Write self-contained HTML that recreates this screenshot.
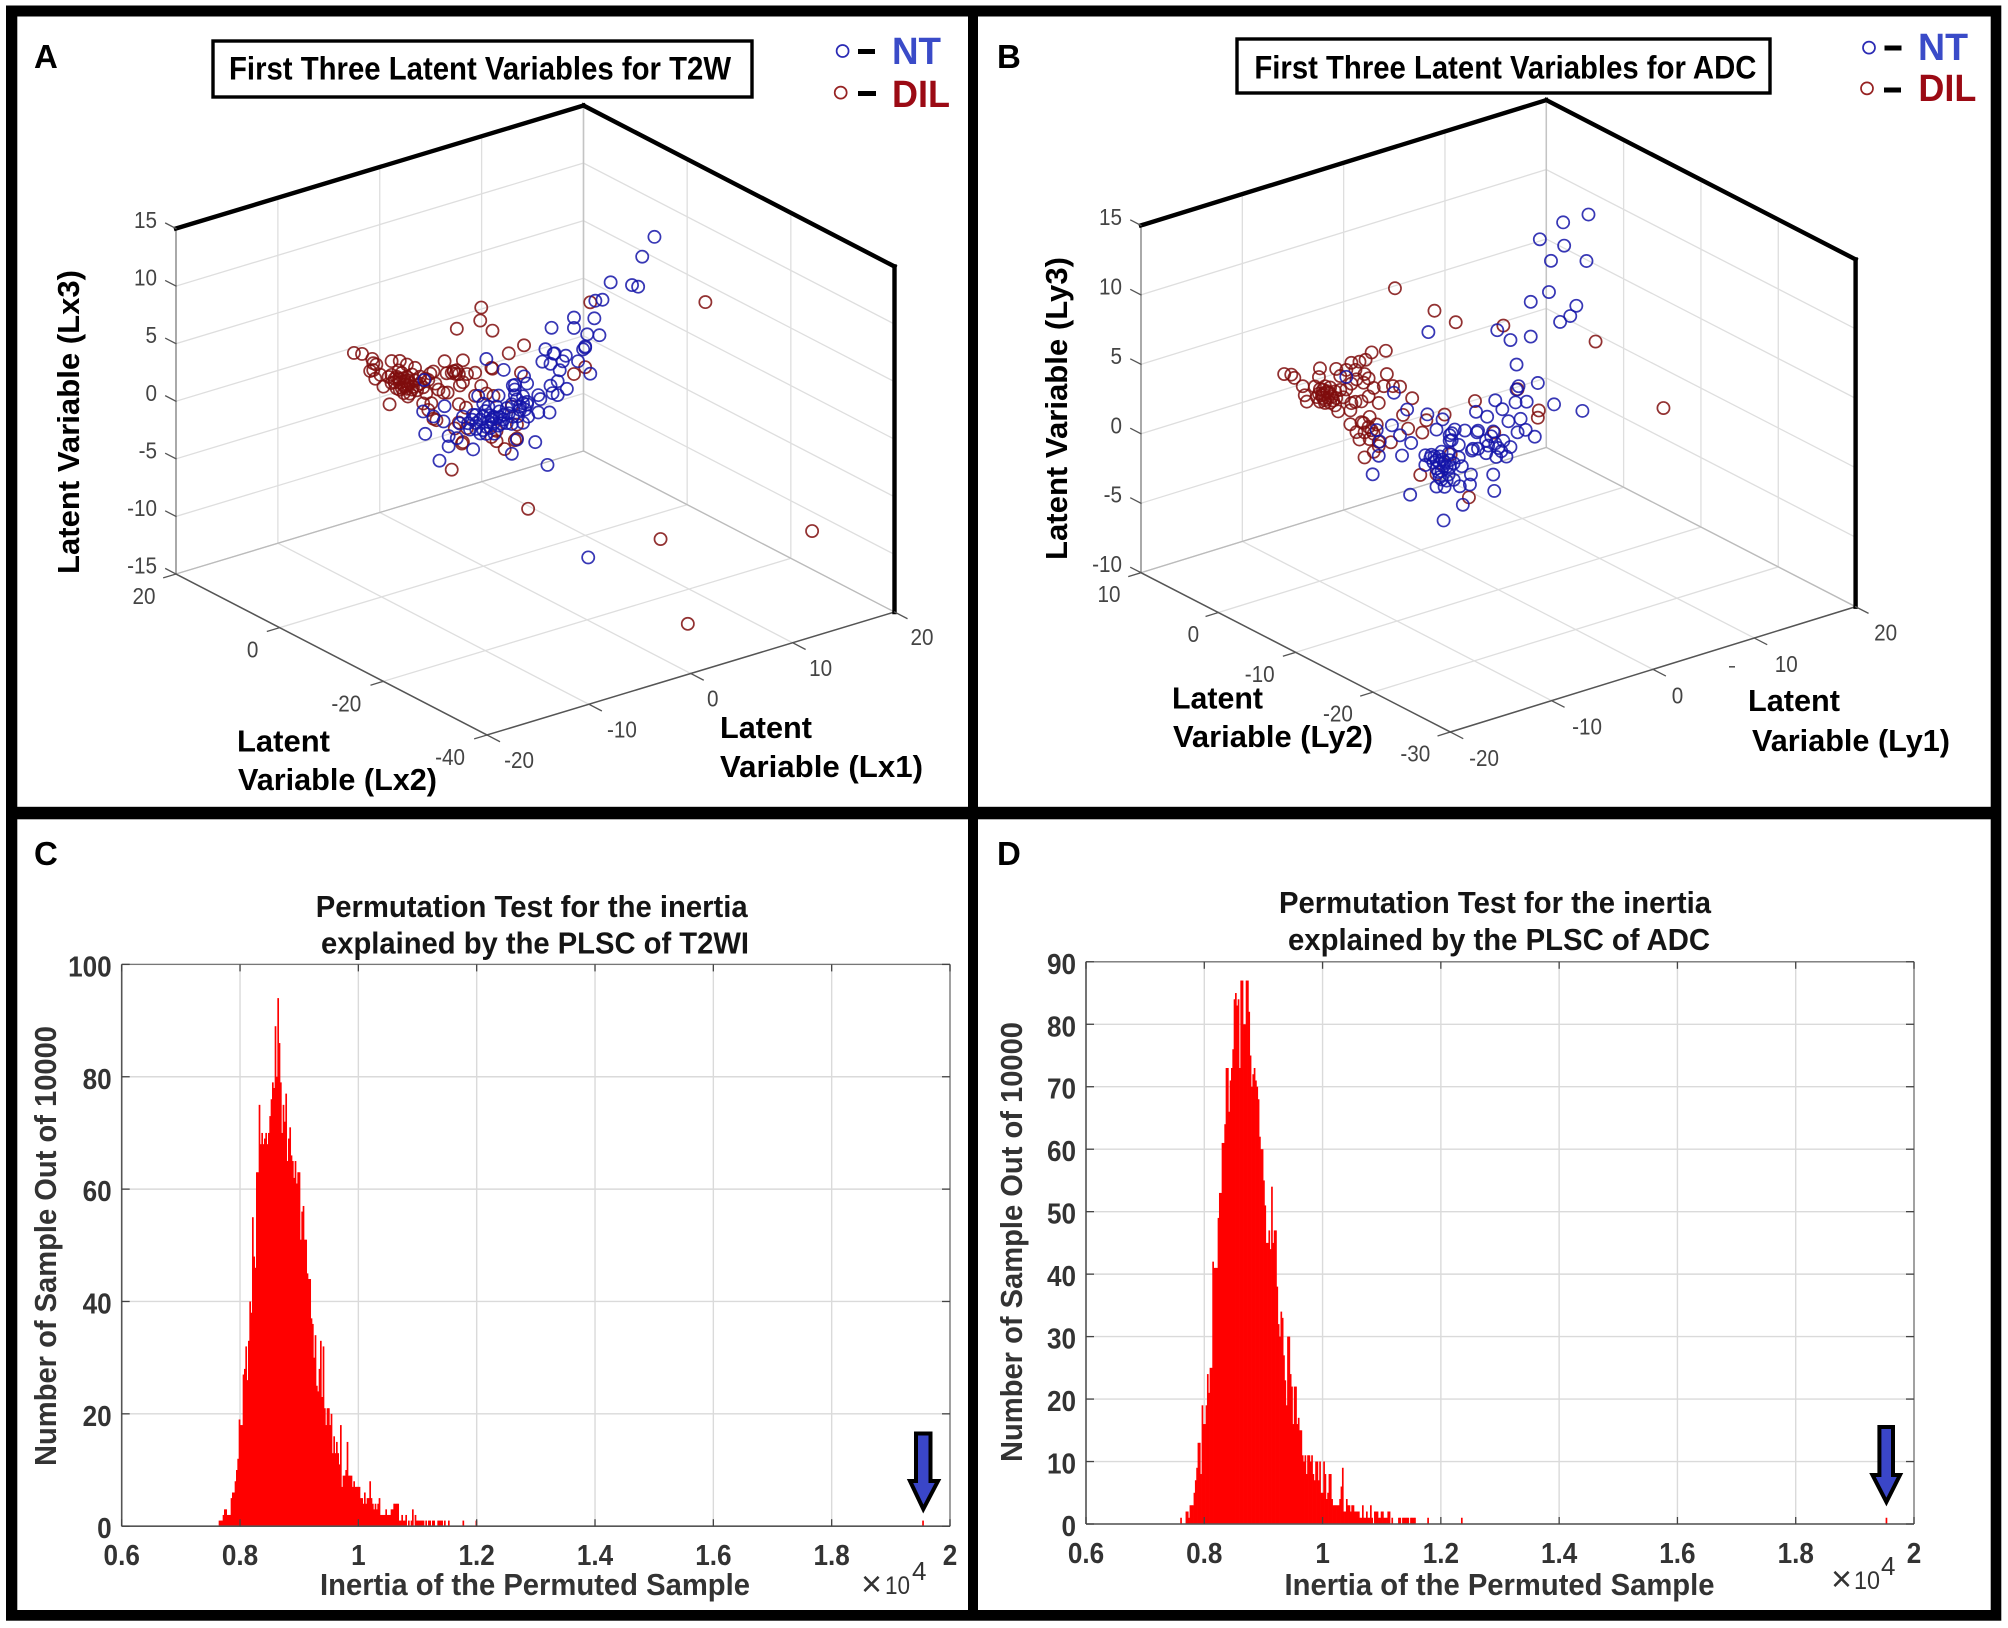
<!DOCTYPE html>
<html lang="en">
<head>
<meta charset="utf-8">
<title>Latent variables and permutation tests</title>
<style>
html,body{margin:0;padding:0;background:#fff;}
svg{display:block;font-family:"Liberation Sans",sans-serif;}
</style>
</head>
<body>
<svg id="figure" xmlns="http://www.w3.org/2000/svg" width="2008" height="1628" viewBox="0 0 2008 1628">
  <rect x="0" y="0" width="2008" height="1628" fill="#fff"/>
  <rect x="6" y="5.5" width="1995.3" height="1615.2" fill="#000"/>
  <rect x="17.3" y="16.5" width="950.7" height="790.3" fill="#fff"/>
  <rect x="978" y="16.5" width="1012.7" height="790.3" fill="#fff"/>
  <rect x="17.3" y="819.3" width="950.7" height="790.7" fill="#fff"/>
  <rect x="978" y="819.3" width="1012.7" height="790.7" fill="#fff"/>

  <g id="plot-a"></g>
  <g id="plot-b"></g>
  <g id="plot-c"></g>
  <g id="plot-d"></g>

  <g font-weight="700" font-size="33" fill="#000">
    <text x="34" y="68">A</text>
    <text x="997" y="68">B</text>
    <text x="34" y="865">C</text>
    <text x="997" y="865">D</text>
  </g>

  <rect x="213" y="41" width="539" height="56" fill="#fff" stroke="#000" stroke-width="3.4"/>
  <text x="229" y="79.5" font-size="32" font-weight="700" textLength="502" lengthAdjust="spacingAndGlyphs">First Three Latent Variables for T2W</text>
  <rect x="1237" y="39" width="533" height="54" fill="#fff" stroke="#000" stroke-width="3.4"/>
  <text x="1254.4" y="78.5" font-size="32" font-weight="700" textLength="502" lengthAdjust="spacingAndGlyphs">First Three Latent Variables for ADC</text>

  <g>
    <circle cx="842.6" cy="51" r="6" fill="none" stroke="#2a2ab4" stroke-width="1.7"/>
    <rect x="858" y="49" width="17" height="5" fill="#000"/>
    <text x="892" y="64" font-size="38" font-weight="700" fill="#3a4bc8" textLength="49" lengthAdjust="spacingAndGlyphs">NT</text>
    <circle cx="840.7" cy="92.6" r="6" fill="none" stroke="#962222" stroke-width="1.7"/>
    <rect x="858" y="91" width="18" height="5" fill="#000"/>
    <text x="892" y="107" font-size="38" font-weight="700" fill="#9b0a14" textLength="58" lengthAdjust="spacingAndGlyphs">DIL</text>
  </g>
  <g>
    <circle cx="1869" cy="47.6" r="6" fill="none" stroke="#2a2ab4" stroke-width="1.7"/>
    <rect x="1884.5" y="45.5" width="17" height="5" fill="#000"/>
    <text x="1918" y="60" font-size="38" font-weight="700" fill="#3a4bc8" textLength="50" lengthAdjust="spacingAndGlyphs">NT</text>
    <circle cx="1867" cy="88.4" r="6" fill="none" stroke="#962222" stroke-width="1.7"/>
    <rect x="1884" y="87.5" width="17" height="5" fill="#000"/>
    <text x="1918.4" y="101" font-size="38" font-weight="700" fill="#9b0a14" textLength="58" lengthAdjust="spacingAndGlyphs">DIL</text>
  </g>

  <g font-size="31" font-weight="700" fill="#000">
    <text transform="translate(79,422) rotate(-90)" text-anchor="middle" textLength="304" lengthAdjust="spacingAndGlyphs">Latent Variable (Lx3)</text>
    <text x="237" y="751.5" textLength="93" lengthAdjust="spacingAndGlyphs">Latent</text>
    <text x="238" y="790" textLength="199" lengthAdjust="spacingAndGlyphs">Variable (Lx2)</text>
    <text x="720" y="738" textLength="92" lengthAdjust="spacingAndGlyphs">Latent</text>
    <text x="720" y="777" textLength="203" lengthAdjust="spacingAndGlyphs">Variable (Lx1)</text>
    <text transform="translate(1067,408.5) rotate(-90)" text-anchor="middle" textLength="303" lengthAdjust="spacingAndGlyphs">Latent Variable (Ly3)</text>
    <text x="1172" y="708.5" textLength="91" lengthAdjust="spacingAndGlyphs">Latent</text>
    <text x="1173" y="747" textLength="200" lengthAdjust="spacingAndGlyphs">Variable (Ly2)</text>
    <text x="1748" y="711" textLength="92" lengthAdjust="spacingAndGlyphs">Latent</text>
    <text x="1752" y="751" textLength="198" lengthAdjust="spacingAndGlyphs">Variable (Ly1)</text>
  </g>
  <rect x="1729" y="666" width="6" height="1.6" fill="#555"/>

  <g font-size="31" font-weight="700" fill="#151515">
    <text x="315.7" y="917" textLength="432" lengthAdjust="spacingAndGlyphs">Permutation Test for the inertia</text>
    <text x="321" y="953.5" textLength="428" lengthAdjust="spacingAndGlyphs">explained by the PLSC of T2WI</text>
    <text x="1279" y="913" textLength="432" lengthAdjust="spacingAndGlyphs">Permutation Test for the inertia</text>
    <text x="1288" y="950" textLength="422" lengthAdjust="spacingAndGlyphs">explained by the PLSC of ADC</text>
  </g>
  <g font-size="31" font-weight="700" fill="#333">
    <text x="320" y="1595" textLength="430" lengthAdjust="spacingAndGlyphs">Inertia of the Permuted Sample</text>
    <text transform="translate(56,1246) rotate(-90)" text-anchor="middle" textLength="440" lengthAdjust="spacingAndGlyphs">Number of Sample Out of 10000</text>
    <text x="1284.5" y="1595" textLength="430" lengthAdjust="spacingAndGlyphs">Inertia of the Permuted Sample</text>
    <text transform="translate(1022,1242) rotate(-90)" text-anchor="middle" textLength="440" lengthAdjust="spacingAndGlyphs">Number of Sample Out of 10000</text>
  </g>
  <g fill="#333">
    <text x="861" y="1596" font-size="36">×</text>
    <text x="885" y="1594" font-size="25" textLength="25" lengthAdjust="spacingAndGlyphs">10</text>
    <text x="912" y="1580" font-size="26">4</text>
    <text x="1831" y="1591" font-size="36">×</text>
    <text x="1854" y="1589" font-size="25" textLength="26" lengthAdjust="spacingAndGlyphs">10</text>
    <text x="1881" y="1575" font-size="26">4</text>
  </g>
  <polygon points="916,1433.5 930.5,1433.5 930.5,1481 938,1481 923.3,1509 910,1481 916,1481" fill="#3a46c8" stroke="#000" stroke-width="4" stroke-linejoin="miter"/>
  <polygon points="1879.4,1427 1893,1427 1893,1475 1900,1475 1886.4,1502 1872.5,1475 1879.4,1475" fill="#3a46c8" stroke="#000" stroke-width="4" stroke-linejoin="miter"/>
</svg>
<script>
/* ---------- Panel A values: [Lx1, Lx2, Lx3]; depth (Lx2) is an estimate, a 2-D picture cannot show it ---------- */
const t2wLx1Ticks = [-20,-10,0,10,20];
const t2wLx2Ticks = [20,0,-20,-40];
const t2wLx3Ticks = [-15,-10,-5,0,5,10,15];
const t2wNT = [[11.7,-10,12.8],[10.5,-10,11.4],[7.4,-10,10],[9.5,-10,9.2],[10.1,-10,8.9],[6.6,-10,8.7],[5.9,-10,8.8],[3.8,-10,7.9],[5.8,-10,7.3],[1.6,-10,7.6],[3.8,-10,7],[5.1,-10,6.1],[6.3,-10,5.7],[4.9,-10,5.1],[4.7,-10,4.9],[1,-10,5.9],[1.8,-10,5.3],[3,-10,4.8],[0.7,-10,4.9],[1.5,-10,4.5],[2.7,-10,4.4],[4.2,-10,4],[2.4,-10,3.7],[5.4,-10,2.6],[-4.8,-10,6.6],[-3.1,-10,5.2],[-10.9,-10,6.4],[-1.1,-10,4.1],[-0.8,-10,3.4],[-2.2,-10,3.6],[-2,-10,3.2],[2.2,-10,2.8],[1.5,-10,2.6],[3.1,-10,1.9],[1.7,-10,1.9],[2.2,-10,1.6],[0.3,-10,2.1],[0.5,-10,1.7],[-3.6,-10,3.1],[-1.2,-10,2.4],[-0.8,-10,1.8],[-2.3,-10,2],[-1.5,-10,1.6],[-8.9,-10,3.6],[-11,-10,3.7],[0.3,-10,0.6],[1.4,-10,0.3],[-10,-10,3],[-9,-10,2.3],[-10.8,-10,1.7],[0,-10,-1.9],[-1.8,-10,-1.2],[-8.5,-10,0.9],[-8.5,-10,0],[-6.1,-10,-0.9],[-9.4,-10,-1],[-2.3,-10,-2.3],[1.2,-10,-4.2],[-7.1,-10,2.2],[-6.2,-10,1.7],[-5.8,-10,1.3],[-5.1,-10,1.7],[-4.4,-10,1.6],[-3.8,-10,1.2],[-3.1,-10,0.9],[-2.8,-10,0.5],[-4.8,-10,0.7],[-5.4,-10,0.3],[-6.4,-10,0.9],[-7.4,-10,1.7],[-4.1,-10,0.8],[-3.5,-10,1.2],[-2.2,-10,0.9],[-1.5,-10,1.3],[-0.7,-10,0.5],[-1.2,-10,0.1],[-2.6,-10,1.3],[-4.6,-10,2.4],[-5.1,-10,2.8],[-5.6,-10,3.6],[-3.8,-10,2.2],[-7.7,-10,0.5],[-4,-10,-0.1],[-4.8,-10,0.1],[-0.8,-10,1.6],[-1.8,-10,2.3],[-2,-10,3.6],[1.9,-10,5.3],[4.9,-10,5],[-3.3,-10,0.6],[-4.3,-10,1.2],[-5.8,-10,2],[5.2,-10,-13.3],[-4.9,-10,2.1],[-4.1,-10,1.4],[-4.6,-10,1.1],[-3.6,-10,0.5],[-3.1,-10,1.3],[-5.4,-10,1.5],[-6.1,-10,2.1],[-6.6,-10,1.5],[-5.1,-10,0.5],[-2.3,-10,0.3],[-1.7,-10,0.8],[-1,-10,1.2],[-1.2,-10,1.8],[-2,-10,2.7],[-2.8,-10,1.8],[-3.5,-10,1.7],[-4.4,-10,0.5],[-5.8,-10,0.8]];
const t2wDIL = [[-17.8,-10,10.6],[-17,-10,10.3],[-16,-10,9.6],[-15.9,-10,9.2],[-15.6,-10,9],[-16.2,-10,8.6],[-15.7,-10,7.8],[-14.9,-10,6.9],[-14.3,-10,5.2],[-14.1,-10,8.9],[-13.3,-10,8.7],[-12.6,-10,8.2],[-11.8,-10,7.7],[-15.2,-10,8],[-14.1,-10,7.7],[-13.6,-10,7.4],[-13.1,-10,7.6],[-12.6,-10,7.1],[-12.1,-10,7.2],[-13.8,-10,7],[-13.3,-10,6.8],[-12.8,-10,6.8],[-12.3,-10,6.5],[-11.8,-10,6.6],[-13.6,-10,6.4],[-13.1,-10,6.3],[-12.6,-10,6.1],[-12.1,-10,5.9],[-12.9,-10,5.8],[-12.5,-10,5.4],[-11.6,-10,5.7],[-11.3,-10,6.8],[-13.3,-10,7.1],[-12.9,-10,6.5],[-12.5,-10,6.4],[-13.4,-10,7.9],[-14.1,-10,7],[-14.4,-10,7.6],[-11.5,-10,6.1],[-11,-10,5.8],[-10.3,-10,6.8],[-10,-10,6.9],[-10.5,-10,6.3],[-9.8,-10,5.8],[-9.5,-10,5.2],[-9,-10,4.8],[-8.6,-10,4.7],[-10.7,-10,5.2],[-11,-10,4.4],[-10.2,-10,4.2],[-10.5,-10,3.7],[-10,-10,2.8],[-9.7,-10,2.6],[-8.9,-10,7.5],[-7.1,-10,7.1],[-8,-10,6.4],[-7.7,-10,6.4],[-8.2,-10,6.3],[-7.5,-10,6],[-6.7,-10,5.8],[-5.9,-10,5.7],[-7.1,-10,5.2],[-7.4,-10,5],[-8.7,-10,6.4],[-5.3,-10,4.4],[-5.3,-10,11.2],[-5.4,-10,10.1],[-7.7,-10,10],[-4.2,-10,8.9],[-2.6,-10,6.5],[-1.1,-10,6.8],[-4.3,-10,5.7],[-4.2,-10,5.6],[-1.4,-10,4.5],[3.8,-10,3],[4.9,-10,3.3],[5.4,-10,8.8],[-0.7,-10,-7.5],[-8.2,-10,-2.1],[-5.9,-10,3.7],[-4.8,-10,3.6],[-4.1,-10,3.2],[-7.5,-10,3.4],[-6.8,-10,2.9],[-7.5,-10,1.8],[-7.9,-10,1.4],[-6.7,-10,1.1],[-7.1,-10,0],[-7.2,-10,-0.1],[-3.8,-10,0.1],[-4.3,-10,-0.3],[-3.8,-10,-0.8],[-3,-10,-1.7],[-1.8,-10,-1.1],[-2,-10,-1.2],[-1.8,-10,0.1],[-2.3,-10,1.8],[16.7,-10,5.8],[12.3,-10,-13.6],[17,-30,-9.5],[4.8,-30,-14.3],[-13.4,-10,7.2],[-12.9,-10,7.1],[-12.5,-10,6.8],[-12,-10,6.1],[-12.8,-10,6.3],[-13.3,-10,6.2],[-12.3,-10,5.6],[-13.8,-10,7.3],[-11.3,-10,6.2],[-10.8,-10,6.5],[-8,-10,6.4],[-7.8,-10,6.1],[-15.9,-10,8.6]];

/* ---------- Panel B values: [Ly1, Ly2, Ly3] ---------- */
const adcLy1Ticks = [-20,-10,0,10,20];
const adcLy2Ticks = [10,0,-10,-20,-30];
const adcLy3Ticks = [-10,-5,0,5,10,15];
const adcNT = [[8.9,-10,15],[6.4,-10,15],[4.1,-10,14.3],[6.5,-10,13.3],[5.2,-10,12.5],[8.7,-10,11.7],[5,-10,10.3],[3.2,-10,10],[7.7,-10,8.7],[7.1,-10,8.1],[6.1,-10,7.9],[-0.1,-10,8.7],[-6.9,-10,10.1],[1.2,-10,7.7],[3.2,-10,7.5],[1.8,-10,5.8],[2,-10,4.2],[3.9,-10,4],[5.5,-10,2.1],[8.3,-10,1],[-0.3,-10,3.7],[1.7,-10,3.1],[2.8,-10,2.9],[0.4,-10,2.9],[2.2,-10,1.8],[-2.2,-10,3.3],[-1.1,-10,2.7],[1,-10,1.9],[2.7,-10,0.9],[1.9,-10,0.9],[3.6,-10,0.2],[-10.3,-10,6.5],[-9,-10,5],[-7,-10,4.2],[-5.5,-10,3.5],[-6.1,-10,2.9],[-10.5,-10,4.2],[-12,-10,4.2],[-9.7,-10,3.3],[-8.6,-10,2.5],[-11.7,-10,3.3],[-11.8,-10,2.3],[-9.5,-10,1.8],[-12.4,-10,1.1],[-8.7,-10,-1.2],[-5.4,-10,-3.8],[-3.5,-10,-3.1],[-2.8,-10,-1.8],[-0.5,-10,-1.6],[-0.4,-10,-2.8],[-2.7,-10,-1.1],[-3.3,-10,2.2],[-2,-10,1.9],[-4.3,-10,2.5],[-4.8,-10,2.2],[-4.6,-10,1.8],[-3.9,-10,1.3],[-2.6,-10,0.6],[-2,-10,0.6],[-1.2,-10,1],[-0.5,-10,1.5],[-0.3,-10,0.6],[0.5,-10,0.6],[1.2,-10,0],[-1.2,-10,0.1],[-0.2,-10,-0.4],[0.8,-10,-0.6],[0.3,-10,-0.1],[-7.2,-10,1.3],[-7.2,-10,0.6],[-6.3,-10,1],[-5.6,-10,1.2],[-4.9,-10,0.9],[-3.9,-10,0.4],[-6.4,-10,0.6],[-5.8,-10,0.4],[-5.1,-10,0],[-4.4,-10,0.1],[-5.6,-10,-0.2],[-4.9,-10,-0.6],[-6.1,-10,-1.2],[-5.3,-10,-1.4],[-5.6,-10,-0.8],[-4.4,-10,-1.1],[-3.8,-10,-1.7],[-3.6,-10,-0.3],[-15,-10,8.7],[-2.1,-10,1.8],[1.8,-10,4],[-6.7,-10,1],[-5.8,-10,0.9],[-5.5,-10,0.6],[-6.1,-10,0.1],[-4.8,-10,0.4],[-6.6,-10,1.2],[-6.1,-10,0.7],[-5.4,-10,0.1],[-5.9,-10,-0.2],[-5.3,-10,0.4],[-4.8,-10,-0.1],[-5.8,-10,-0.6],[-5.1,-10,-1],[-1,-10,0.6],[0,-10,0.2],[-0.7,-10,1.2],[-2.5,-10,0.7],[-4.6,-10,2.3],[-4.8,-10,1.8]];
const adcDIL = [[-10.2,-10,14],[-6.3,-10,11.5],[-4.2,-10,10.2],[0.5,-10,8.9],[9.6,-10,5.7],[16.3,-10,-0.6],[-2.3,-10,4.1],[1.9,-10,4],[4,-10,2],[3.9,-10,1.5],[-0.4,-10,1.4],[-5.3,-10,3.8],[-7.1,-10,3.8],[-7.5,-10,3],[-8.9,-10,3.6],[-9.4,-10,4.7],[-8.5,-10,5.7],[-9.7,-10,6.8],[-10.6,-10,3],[-11.8,-10,3.3],[-12.3,-10,2.7],[-13.2,-10,2.5],[-7.7,-10,0],[-6.1,-10,-0.3],[-4.7,-10,0.8],[-2.9,-10,-2.7],[-13.5,0,5.7],[-12.8,0,5.5],[-12.5,0,5.2],[-19.3,-10,9],[-19.1,-10,8.3],[-18.9,-10,7.8],[-17.6,-10,9.9],[-17.7,-10,9.3],[-16,-10,9.5],[-14.5,-10,9.6],[-13.7,-10,9.5],[-13.1,-10,9.5],[-12.5,-10,9.9],[-11.1,-10,9.7],[-11,-10,8],[-13.2,-10,8.5],[-15,-10,9.2],[-14.1,-10,9],[-15.6,-10,8.9],[-18.1,-10,8.7],[-17.6,-10,8.4],[-17.1,-10,8.5],[-16.6,-10,8.3],[-16.1,-10,7.9],[-15.6,-10,7.9],[-17.9,-10,7.9],[-17.4,-10,7.9],[-16.9,-10,8],[-16.4,-10,7.6],[-16,-10,7.4],[-17.6,-10,7.5],[-17.1,-10,7.3],[-16.6,-10,7.2],[-16.1,-10,6.9],[-17.3,-10,7.7],[-16.8,-10,7.6],[-15.3,-10,7.3],[-15,-10,7.8],[-14.5,-10,8.1],[-14,-10,8.3],[-13.3,-10,7.9],[-12.8,-10,8.1],[-12.3,-10,7.3],[-11.3,-10,7.2],[-10.4,-10,7],[-11.8,-10,6.1],[-12.8,-10,6.8],[-13.5,-10,6.6],[-14.1,-10,6.7],[-14.6,-10,6.2],[-15.8,-10,6.4],[-14.6,-10,5.2],[-13.5,-10,5.1],[-12.7,-10,5.3],[-12.8,-10,4.6],[-12,-10,4.6],[-14,-10,4.5],[-13.2,-10,4.3],[-13.7,-10,3.9],[-12.7,-10,3.7],[-11.8,-10,3],[-12.3,-10,4],[-17.3,-10,8.3],[-16.9,-10,8.1],[-17.3,-10,8],[-17.7,-10,8.1],[-16.6,-10,7.9],[-17.1,-10,7.5],[-16.3,-10,7.3],[-14.5,-10,6.7],[-13.3,-10,5],[-12.5,-10,4.3]];

/* ---------- Histogram values: counts per bin and isolated bins ---------- */
const inertiaTicks = [0.6,0.8,1,1.2,1.4,1.6,1.8,2];
const inertiaTickLabels = ['0.6','0.8','1','1.2','1.4','1.6','1.8','2'];
const t2wiCountTicks = [0,20,40,60,80,100];
const adcCountTicks = [0,10,20,30,40,50,60,70,80,90];
const t2wiBinStart = 0.7639;
const t2wiBinWidth = 0.0022535;
const t2wiCounts = [1,1,1,2,3,3,2,2,2,5,6,6,8,10,12,19,18,18,27,28,32,26,33,40,38,55,48,46,63,63,75,68,70,68,69,70,68,70,73,76,79,78,89,80,94,86,79,70,75,72,77,65,69,71,66,65,62,65,61,63,63,51,56,57,51,51,45,44,44,37,36,30,34,25,24,28,33,23,32,21,18,21,21,18,20,13,16,13,15,13,11,18,7,9,9,10,15,9,9,9,7,8,7,7,7,7,5,5,4,6,4,5,5,8,5,4,3,4,3,4,5,2,2,2,2,3,2,2,2,3,3,4,4,4,4,1,1,2,1,1,2,0,1,0,1,3,0,2,1,1,1,1,1,1,0,1,0,1,1,0,1,1,0,0,1,1,1,1,0,1,0,0,1];
const t2wiIsolatedValues = [1.176,1.198,1.953];
const t2wiIsolatedCounts = [1,1,1];
const adcBinStart = 0.7593;
const adcBinWidth = 0.00226;
const adcCounts = [1,0,0,0,2,2,1,3,3,3,5,7,9,13,13,8,19,16,16,19,24,21,25,25,42,41,41,41,49,53,53,61,61,64,73,73,66,71,73,76,84,85,83,84,73,87,87,80,80,87,87,82,75,70,72,73,71,70,68,62,60,60,55,51,45,45,47,44,54,45,47,47,38,32,30,34,33,27,23,19,30,30,24,22,16,22,22,16,17,15,15,11,10,11,8,11,11,10,11,8,7,10,10,7,10,5,5,10,8,4,5,8,8,4,3,3,3,3,3,4,6,9,2,2,4,3,3,2,3,3,2,2,2,2,1,1,3,1,1,2,1,1,3,1,0,2,2,2,1,1,2,2,1,1,1,2,2,0,1,0,0,0,0,1,1,0,1,1,1,1,1,0,1,1,1,1];
const adcIsolatedValues = [1.177,1.234,1.952];
const adcIsolatedCounts = [1,1,1];

const NS = 'http://www.w3.org/2000/svg';
function node(tag, parent, props, content) {
  const el = document.createElementNS(NS, tag);
  for (const k in props) el.setAttribute(k, props[k]);
  if (content !== undefined) el.textContent = content;
  parent.appendChild(el);
  return el;
}

function drawScatter3D(cfg) {
  const root = document.getElementById(cfg.id);
  const [x0, x1] = cfg.xDomain, [y0, y1] = cfg.yDomain, [z0, z1] = cfg.zDomain;
  function project(x, y, z) {
    const tx = (x - x0) / (x1 - x0), ty = (y - y0) / (y1 - y0), tz = (z - z0) / (z1 - z0);
    return [
      cfg.front[0] + tx * (cfg.right[0] - cfg.front[0]) + ty * (cfg.left[0] - cfg.front[0]),
      cfg.front[1] + tx * (cfg.right[1] - cfg.front[1]) + ty * (cfg.left[1] - cfg.front[1]) - tz * cfg.height
    ];
  }
  function segment(a, b, stroke, width, name) {
    const l = node('line', root, {x1: a[0], y1: a[1], x2: b[0], y2: b[1], stroke: stroke, 'stroke-width': width, 'stroke-linecap': 'square'});
    
    
  }
  const grid = '#dedede';
  cfg.xTicks.forEach(v => {
    segment(project(v, y0, z0), project(v, y1, z0), grid, 1.3, 'floor-gridline-x');
    segment(project(v, y1, z0), project(v, y1, z1), grid, 1.3, 'wall-gridline-x');
  });
  cfg.yTicks.forEach(v => {
    segment(project(x0, v, z0), project(x1, v, z0), grid, 1.3, 'floor-gridline-y');
    segment(project(x1, v, z0), project(x1, v, z1), grid, 1.3, 'wall-gridline-y');
  });
  cfg.zTicks.forEach(v => {
    segment(project(x0, y1, v), project(x1, y1, v), grid, 1.3, 'wall-gridline-z');
    segment(project(x1, y1, v), project(x1, y0, v), grid, 1.3, 'wall-gridline-z');
  });
  segment(project(x1, y1, z0), project(x1, y1, z1), '#c4c4c4', 1.5, 'back-edge');
  segment(project(x0, y1, z0), project(x1, y1, z0), '#bbbbbb', 1.3, 'floor-back-edge');
  segment(project(x1, y1, z0), project(x1, y0, z0), '#bbbbbb', 1.3, 'floor-back-edge');
  segment(project(x0, y1, z0), project(x0, y1, z1), '#777', 1.2, 'z-axis-line');
  segment(project(x0, y1, z0), project(x0, y0, z0), '#555', 1.5, 'y-axis-line');
  segment(project(x0, y0, z0), project(x1, y0, z0), '#555', 1.5, 'x-axis-line');
  segment(project(x0, y1, z1), project(x1, y1, z1), '#000', 4.4, 'box-top-edge');
  segment(project(x1, y1, z1), project(x1, y0, z1), '#000', 4.4, 'box-top-edge');
  segment(project(x1, y0, z1), project(x1, y0, z0), '#000', 4.4, 'box-right-edge');

  function label(p, text, anchor, name) {
    const t = node('text', root, {transform: 'translate(' + p[0] + ',' + p[1] + ') scale(0.88,1)', 'font-size': 23.5, fill: '#444', 'text-anchor': anchor}, text);
    
    
  }
  cfg.xTicks.forEach((v, i) => {
    const a = project(v, y0, z0);
    segment(a, project(v, y0 - (y1 - y0) * 0.04, z0), '#555', 1.3, 'x-axis-tick');
    label([a[0] + cfg.xLabelDx[i], a[1] + cfg.xLabelDy + 8], String(v), 'middle', 'x-tick-label');
  });
  cfg.yTicks.forEach((v, i) => {
    const a = project(x0, v, z0);
    segment(a, project(x0 - (x1 - x0) * 0.03, v, z0), '#555', 1.3, 'y-axis-tick');
    label([a[0] + cfg.yLabelDx[i], a[1] + cfg.yLabelDy + 8], String(v), 'middle', 'y-tick-label');
  });
  cfg.zTicks.forEach(v => {
    const a = project(x0, y1, v);
    segment(a, project(x0, y1 + (y1 - y0) * cfg.zTickFrac, v), '#555', 1.3, 'z-axis-tick');
    label([a[0] - 19, a[1] - 0.5], String(v), 'end', 'z-tick-label');
  });

  cfg.series.forEach(s => {
    s.points.forEach(pt => {
      const p = project(pt[0], pt[1], pt[2]);
      const c = node('circle', root, {cx: p[0], cy: p[1], r: 6.1, fill: 'none', stroke: s.color, 'stroke-width': 1.7, 'stroke-opacity': 0.85});
      
      
    });
  });
}

function drawHistogram(cfg) {
  const root = document.getElementById(cfg.id);
  const sx = v => cfg.left + (v - cfg.xDomain[0]) / (cfg.xDomain[1] - cfg.xDomain[0]) * (cfg.right - cfg.left);
  const sy = v => cfg.bottom - (v - cfg.yDomain[0]) / (cfg.yDomain[1] - cfg.yDomain[0]) * (cfg.bottom - cfg.top);
  function line(x1, y1, x2, y2, stroke, width, name) {
    const l = node('line', root, {x1: x1, y1: y1, x2: x2, y2: y2, stroke: stroke, 'stroke-width': width});
    
    
  }
  function label(x, y, text, anchor, name) {
    const t = node('text', root, {transform: 'translate(' + x + ',' + y + ') scale(0.9,1)', 'font-size': 29, 'font-weight': 700, fill: '#333', 'text-anchor': anchor}, text);
    
    
  }
  cfg.xTicks.forEach(v => line(sx(v), cfg.top, sx(v), cfg.bottom, '#dadada', 1.4, 'x-gridline'));
  cfg.yTicks.forEach(v => line(cfg.left, sy(v), cfg.right, sy(v), '#dadada', 1.4, 'y-gridline'));

  const barWidth = sx(cfg.binWidth) - sx(0);
  function bar(value, count) {
    if (count <= 0) return;
    const r = node('rect', root, {x: sx(value), y: sy(count), width: barWidth + 0.35, height: sy(0) - sy(count), fill: '#ff0000'});
    
    
  }
  cfg.counts.forEach((count, i) => bar(cfg.binStart + i * cfg.binWidth, count));
  cfg.isolatedValues.forEach((v, i) => bar(v, cfg.isolatedCounts[i]));

  line(cfg.left, cfg.top, cfg.right, cfg.top, '#777', 1.3, 'plot-box-top');
  line(cfg.right, cfg.top, cfg.right, cfg.bottom, '#777', 1.3, 'plot-box-right');
  line(cfg.left, cfg.top, cfg.left, cfg.bottom, '#555', 1.6, 'y-axis-line');
  line(cfg.left, cfg.bottom, cfg.right, cfg.bottom, '#555', 1.6, 'x-axis-line');
  cfg.xTicks.forEach((v, i) => {
    line(sx(v), cfg.bottom, sx(v), cfg.bottom - 7, '#444', 1.3, 'x-tick');
    line(sx(v), cfg.top, sx(v), cfg.top + 7, '#444', 1.3, 'x-tick-top');
    label(sx(v), cfg.xLabelY, cfg.xLabels[i], 'middle', 'x-tick-label');
  });
  cfg.yTicks.forEach(v => {
    line(cfg.left, sy(v), cfg.left + 8, sy(v), '#444', 1.3, 'y-tick');
    line(cfg.right, sy(v), cfg.right - 8, sy(v), '#444', 1.3, 'y-tick-right');
    label(cfg.left - 10, sy(v) + 12, String(v), 'end', 'y-tick-label');
  });
}

drawScatter3D({
  id: 'plot-a', front: [487, 735], right: [894.5, 612], left: [176, 574], height: 345.5,
  xDomain: [-20, 20], yDomain: [-40, 20], zDomain: [-15, 15],
  xTicks: t2wLx1Ticks, yTicks: t2wLx2Ticks, zTicks: t2wLx3Ticks,
  xLabelDx: [32, 33, 22, 28, 27.5], xLabelDy: 25, yLabelDx: [-32, -27, -37, -37], yLabelDy: 22, zTickFrac: 0.033,
  series: [{points: t2wDIL, color: '#7f0d0d', name: 'dil-point'}, {points: t2wNT, color: '#1414a8', name: 'nt-point'}]
});
drawScatter3D({
  id: 'plot-b', front: [1450.3, 732], right: [1855.6, 606.7], left: [1141, 572.7], height: 347.3,
  xDomain: [-20, 20], yDomain: [-30, 10], zDomain: [-10, 15],
  xTicks: adcLy1Ticks, yTicks: adcLy2Ticks, zTicks: adcLy3Ticks,
  xLabelDx: [33.7, 35.4, 24.6, 32, 30], xLabelDy: 26, yLabelDx: [-32, -25, -36, -35, -35], yLabelDy: 21.5, zTickFrac: 0.033,
  series: [{points: adcDIL, color: '#7f0d0d', name: 'dil-point'}, {points: adcNT, color: '#1414a8', name: 'nt-point'}]
});
drawHistogram({
  id: 'plot-c', left: 121.7, right: 950, top: 964.4, bottom: 1526.2, xLabelY: 1565,
  xDomain: [0.6, 2], yDomain: [0, 100],
  xTicks: inertiaTicks, xLabels: inertiaTickLabels, yTicks: t2wiCountTicks,
  binStart: t2wiBinStart, binWidth: t2wiBinWidth, counts: t2wiCounts,
  isolatedValues: t2wiIsolatedValues, isolatedCounts: t2wiIsolatedCounts
});
drawHistogram({
  id: 'plot-d', left: 1086, right: 1914, top: 961.8, bottom: 1524, xLabelY: 1563,
  xDomain: [0.6, 2], yDomain: [0, 90],
  xTicks: inertiaTicks, xLabels: inertiaTickLabels, yTicks: adcCountTicks,
  binStart: adcBinStart, binWidth: adcBinWidth, counts: adcCounts,
  isolatedValues: adcIsolatedValues, isolatedCounts: adcIsolatedCounts
});
</script>
</body>
</html>
